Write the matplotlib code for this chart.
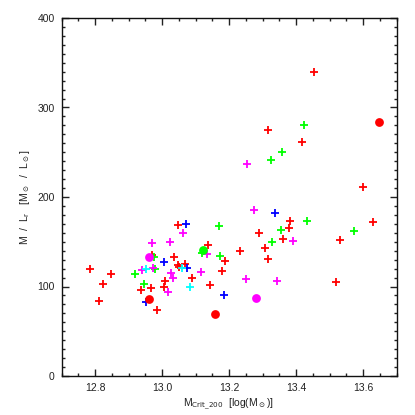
import matplotlib
matplotlib.use("Agg")
import matplotlib.pyplot as plt
from matplotlib.ticker import MultipleLocator

plt.rcParams['font.family'] = ['Liberation Sans', 'DejaVu Sans']
plt.rcParams['mathtext.fontset'] = 'dejavusans'

# Red crosses
red_x = [13.049, 13.136, 12.969, 13.035, 13.187, 13.047, 13.051, 13.070, 12.785, 12.847,
         13.180, 13.010, 13.090, 12.823, 13.144, 12.967, 13.007, 12.936, 12.813, 12.985,
         13.453, 13.317, 13.419, 13.599, 13.382, 13.631, 13.380, 13.290, 13.360, 13.531,
         13.234, 13.307, 13.317, 13.520]
red_y = [168.4, 146.0, 135.6, 133.0, 128.9, 123.7, 121.8, 124.8, 119.2, 114.0,
         117.3, 106.6, 109.9, 102.8, 102.1, 98.3, 99.1, 96.1, 84.2, 73.4,
         339.7, 275.3, 261.1, 211.2, 173.2, 172.5, 165.8, 159.8, 152.7, 152.4,
         139.7, 142.7, 131.2, 104.7]
# Red circles
redc_x = [12.961, 13.159, 13.647]
redc_y = [86.5, 69.7, 284.2]

# Green crosses
green_x = [13.170, 13.119, 12.976, 13.172, 12.919, 12.979, 12.945, 13.425, 13.359, 13.324,
           13.434, 13.356, 13.572, 13.327]
green_y = [168.0, 137.9, 133.0, 134.5, 114.0, 119.2, 102.5, 280.1, 249.9, 241.0,
           173.6, 163.6, 162.0, 150.2]
greenc_x = [13.123]
greenc_y = [141.2]

# Magenta crosses
mag_x = [13.064, 12.971, 13.024, 13.135, 12.941, 12.972, 13.028, 13.116, 13.034, 13.019,
         13.255, 13.276, 13.390, 13.251, 13.344]
mag_y = [160.2, 148.6, 149.7, 136.0, 118.9, 121.1, 114.7, 116.2, 109.2, 93.9,
         237.3, 185.5, 151.3, 108.0, 106.1]
magc_x = [12.961, 13.280]
magc_y = [132.6, 86.8]

# Blue crosses
blue_x = [13.072, 13.007, 13.076, 13.186, 12.951, 13.337]
blue_y = [169.5, 127.0, 120.7, 90.9, 82.3, 182.6]

# Cyan crosses
cyan_x = [13.061, 12.952, 13.084]
cyan_y = [120.7, 120.0, 99.9]

x_ticks = [12.8, 13.0, 13.2, 13.4, 13.6]
x_ticklabels = ['12.8', '13.0', '13.2', '13.4', '13.6']
y_ticks = [0, 100, 200, 300, 400]

fig = plt.figure(figsize=(4.15, 4.15), dpi=100)
ax = fig.add_axes([61.5/415, 1-376/415, (396.5-61.5)/415, (376-18)/415])

cross_kw = dict(marker='+', s=30, linewidths=1.3)
circ_kw = dict(marker='o', s=40, linewidths=0)
ax.scatter(red_x, red_y, color='#ff0000', **cross_kw)
ax.scatter(green_x, green_y, color='#00ff00', **cross_kw)
ax.scatter(mag_x, mag_y, color='#ff00ff', **cross_kw)
ax.scatter(blue_x, blue_y, color='#0000ff', **cross_kw)
ax.scatter(cyan_x, cyan_y, color='#00ffff', **cross_kw)
ax.scatter(redc_x, redc_y, color='#ff0000', **circ_kw)
ax.scatter(greenc_x, greenc_y, color='#00ff00', **circ_kw)
ax.scatter(magc_x, magc_y, color='#ff00ff', **circ_kw)

ax.set_xlim(12.7, 13.7)
ax.set_ylim(0, 400)
ax.set_xticks(x_ticks)
ax.set_xticklabels(x_ticklabels)
ax.set_yticks(y_ticks)
ax.xaxis.set_minor_locator(MultipleLocator(0.05))
ax.yaxis.set_minor_locator(MultipleLocator(10))
ax.tick_params(which='both', direction='in', top=True, right=True, width=1.0,
               labelsize=7.5, colors='#222222')
ax.tick_params(which='major', length=5)
ax.tick_params(which='minor', length=2.5)
ax.tick_params(axis='x', pad=5)
ax.tick_params(axis='y', pad=5)
for sp in ax.spines.values():
    sp.set_linewidth(1.0)
    sp.set_color('#111111')

ax.set_xlabel(r'M$_{\rm Crit\_200}$  [log(M$_\odot$)]', fontsize=7.5, color='#222222', labelpad=3)
ax.set_ylabel(r'M  /  L$_{\rm r}$   [M$_\odot$  /  L$_\odot$]', fontsize=7.5, color='#222222', labelpad=4)

fig.savefig('out.png', dpi=100)
